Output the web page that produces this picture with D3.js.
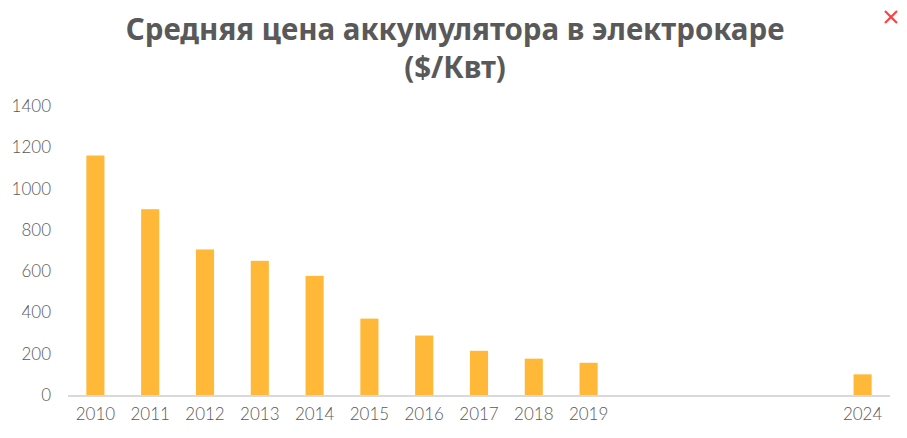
<html>
  <head>
    <meta charset="utf-8" />
    <script src="https://d3js.org/d3.v7.min.js"></script>
    <style>
      body {
        margin: 0;
        background: #fff;
      }
      .axis text {
        font-family: Lato, "Open Sans", sans-serif;
        font-weight: 300;
        font-size: 17px;
        fill: #595959;
      }
      .title {
        font-family: "Noto Sans", sans-serif;
        font-weight: bold;
        fill: #595959;
      }
    </style>
  </head>
  <body>
    <svg width="907" height="438" id="chart"></svg>
    <script>
      // years on the axis (2020-2023 are empty slots)
      const years = [
        "2010", "2011", "2012", "2013", "2014", "2015", "2016",
        "2017", "2018", "2019", "2020", "2021", "2022", "2023", "2024",
      ];
      const prices = [1160, 900, 705, 650, 577, 370, 288, 214, 176, 156, null, null, null, null, 100];
      const yearLabels = ["2010", "2011", "2012", "2013", "2014", "2015", "2016", "2017", "2018", "2019", "2024"];
      const yTicks = [0, 200, 400, 600, 800, 1000, 1200, 1400];
      const titleLines = ["Средняя цена аккумулятора в электрокаре", "($/Квт)"];

      const svg = d3.select("svg#chart");
      const margin = { top: 106, right: 17, bottom: 43, left: 68 };
      const width = 907;
      const height = 438;

      const x = d3
        .scaleBand()
        .domain(years)
        .range([margin.left, width - margin.right])
        .paddingInner(0.67)
        .paddingOuter(0.335);

      const y = d3
        .scaleLinear()
        .domain([0, 1400])
        .range([height - margin.bottom, margin.top]);

      // title
      svg
        .append("g")
        .selectAll("text")
        .data(titleLines)
        .join("text")
        .attr("class", "title")
        .attr("x", 455)
        .attr("y", (d, i) => 40 + i * 38)
        .attr("text-anchor", "middle")
        .attr("font-size", "29.5px")
        .text((d) => d);

      // bars
      const data = years.map((d, i) => ({ year: d, value: prices[i] }));
      svg
        .append("g")
        .selectAll("rect")
        .data(data.filter((d) => d.value != null))
        .join("rect")
        .attr("x", (d) => x(d.year))
        .attr("y", (d) => y(d.value))
        .attr("width", x.bandwidth())
        .attr("height", (d) => y(0) - y(d.value))
        .attr("fill", "#ffb838");

      // baseline
      svg
        .append("line")
        .attr("x1", margin.left)
        .attr("x2", width - margin.right)
        .attr("y1", y(0) + 1)
        .attr("y2", y(0) + 1)
        .attr("stroke", "#d9d9d9")
        .attr("stroke-width", 2);

      // y axis labels
      const yAxis = d3
        .axisLeft(y)
        .tickValues(yTicks)
        .tickFormat(d3.format("d"))
        .tickSize(0)
        .tickPadding(0);
      svg
        .append("g")
        .attr("class", "axis")
        .attr("transform", "translate(51,0)")
        .call(yAxis)
        .call((g) => g.select(".domain").remove());

      // x axis labels
      const xAxis = d3
        .axisBottom(x)
        .tickSize(0)
        .tickPadding(0)
        .tickFormat((d) => (yearLabels.includes(d) ? d : ""));
      svg
        .append("g")
        .attr("class", "axis")
        .attr("transform", `translate(0,${y(0) + 13})`)
        .call(xAxis)
        .call((g) => g.select(".domain").remove());

      // close mark
      const cx = 891, cy = 17, s = 6;
      svg
        .append("g")
        .attr("stroke", "#ff4040")
        .attr("stroke-width", 2.2)
        .selectAll("line")
        .data([[-1, -1, 1, 1], [1, -1, -1, 1]])
        .join("line")
        .attr("x1", (d) => cx + d[0] * s)
        .attr("y1", (d) => cy + d[1] * s)
        .attr("x2", (d) => cx + d[2] * s)
        .attr("y2", (d) => cy + d[3] * s);
    </script>
  </body>
</html>
